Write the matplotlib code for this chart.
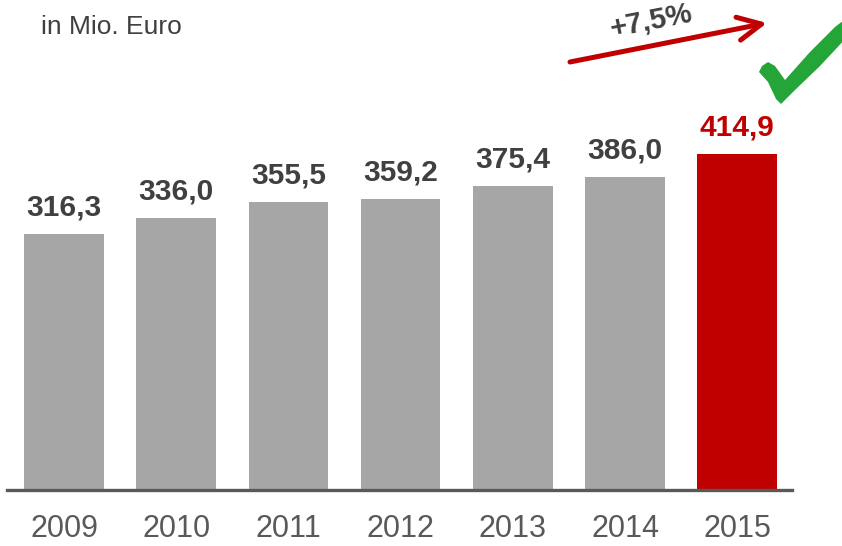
import matplotlib
matplotlib.use("Agg")
import matplotlib.pyplot as plt
from matplotlib.patches import Polygon

years = ["2009", "2010", "2011", "2012", "2013", "2014", "2015"]
values = [316.3, 336.0, 355.5, 359.2, 375.4, 386.0, 414.9]
labels = ["316,3", "336,0", "355,5", "359,2", "375,4", "386,0", "414,9"]
growth_label = "+7,5%"
unit_label = "in Mio. Euro"

GRAY = "#A6A6A6"
RED = "#C00000"
TXT = "#404040"
AXIS = "#595959"
GREEN = "#25A438"
FONT = "Liberation Sans"

W, H = 842, 546
fig = plt.figure(figsize=(W / 100, H / 100), dpi=100)
ax = fig.add_axes([7 / W, (H - 490) / H, 785 / W, 490 / H])

x = list(range(len(years)))
colors = [GRAY] * (len(years) - 1) + [RED]
ax.bar(x, values, width=0.71, color=colors, zorder=2)

ax.set_xlim(-0.508, 6.488)
ax.set_ylim(0, 605)

for s in ["top", "right", "left"]:
    ax.spines[s].set_visible(False)
ax.spines["bottom"].set_color(AXIS)
ax.spines["bottom"].set_linewidth(2.4)
ax.spines["bottom"].set_zorder(3)
ax.set_yticks([])
ax.set_xticks(x)
ax.set_xticklabels(years, fontsize=22, color=AXIS, family=FONT)
ax.tick_params(axis="x", length=0, pad=17)

for xi, v, lab, c in zip(x, values, labels, colors):
    ax.annotate(lab, (xi, v), xytext=(0, 13.5), textcoords="offset points",
                ha="center", va="baseline", fontsize=21.5, fontweight="bold",
                family=FONT, color=(RED if c == RED else TXT))

fig.text(41 / W, 1 - 34 / H, unit_label, fontsize=19, color=TXT,
         family=FONT, ha="left", va="baseline")

# growth arrow
ax.annotate("", xy=(767 / W, 1 - 23 / H), xytext=(570 / W, 1 - 62 / H),
            xycoords="figure fraction", textcoords="figure fraction",
            arrowprops=dict(arrowstyle="->,head_length=0.85,head_width=0.42",
                            color=RED, lw=3.6, mutation_scale=20,
                            shrinkA=0, shrinkB=0, capstyle="round",
                            joinstyle="round"),
            annotation_clip=False)
fig.text(651 / W, 1 - 21 / H, growth_label, fontsize=21, fontweight="bold",
         family=FONT, color=TXT, rotation=11,
         ha="center", va="center", rotation_mode="anchor")

# check mark
pts_px = [(759, 72), (762, 66), (768, 62), (775, 66), (785, 80),
          (810, 52), (835, 27), (848, 17), (848, 36), (820, 66),
          (795, 90), (781, 104), (776, 99), (768, 82)]
pts = [(px / W, 1 - py / H) for px, py in pts_px]
fig.patches.append(Polygon(pts, closed=True, facecolor=GREEN, edgecolor="none",
                           transform=fig.transFigure, figure=fig))

fig.savefig("out.png", dpi=100, facecolor="white")
